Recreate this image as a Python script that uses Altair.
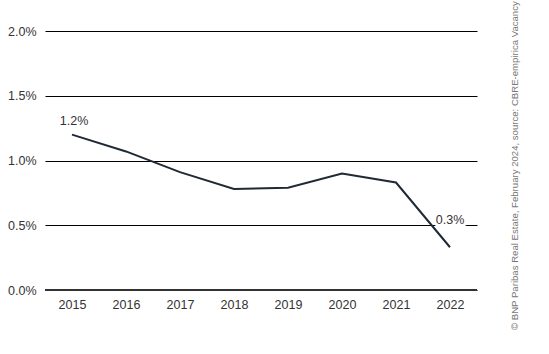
import altair as alt
import pandas as pd

years = ["2015", "2016", "2017", "2018", "2019", "2020", "2021", "2022"]
values = [1.20, 1.07, 0.91, 0.78, 0.79, 0.90, 0.83, 0.33]
label_years = ["2015", "2022"]
label_texts = ["1.2%", "0.3%"]
label_vals = [1.20, 0.33]
source_text = "© BNP Paribas Real Estate, February 2024, source: CBRE-empirica Vacancy Index"

FONT = "Liberation Sans"

df = pd.DataFrame({"year": years, "v": [x / 100 for x in values]})
lab = pd.DataFrame({"year": label_years, "t": label_texts, "v": [x / 100 for x in label_vals]})

x = alt.X("year:N", sort=years, title=None,
          scale=alt.Scale(paddingInner=0, paddingOuter=0),
          axis=alt.Axis(labelAngle=0, ticks=False, domain=False, grid=False,
                        labelFont=FONT, labelFontSize=12.5, labelColor="#333333", labelPadding=8))
y = alt.Y("v:Q", title=None, scale=alt.Scale(domain=[0, 0.02]),
          axis=alt.Axis(format=".1%", values=[0, 0.005, 0.01, 0.015, 0.02], ticks=False,
                        domain=False, grid=True, gridColor="#000000", gridWidth=1,
                        labelFont=FONT, labelFontSize=12.5, labelColor="#333333", labelPadding=9))

line = alt.Chart(df).mark_line(color="#1f2a36", strokeWidth=2).encode(x=x, y=y)

zero = alt.Chart(df).mark_rule(color="#333333", strokeWidth=1.8).encode(
    y=alt.datum(0), x=alt.value(0), x2=alt.value(432))

lab1 = alt.Chart(lab[lab["year"] == "2015"]).mark_text(
    font=FONT, fontSize=12.5, color="#333333", dy=-14, dx=2).encode(
    x=alt.X("year:N", sort=years), y=alt.Y("v:Q"), text="t:N")

lab2bg = alt.Chart(lab[lab["year"] == "2022"]).mark_text(
    font=FONT, fontSize=12.5, color="white", stroke="white", strokeWidth=6, dy=-27, dx=0).encode(
    x=alt.X("year:N", sort=years), y=alt.Y("v:Q"), text="t:N")
lab2 = alt.Chart(lab[lab["year"] == "2022"]).mark_text(
    font=FONT, fontSize=12.5, color="#333333", dy=-27, dx=0).encode(
    x=alt.X("year:N", sort=years), y=alt.Y("v:Q"), text="t:N")

src = alt.Chart(pd.DataFrame({"t": [source_text]})).mark_text(
    font=FONT, fontSize=9.6, color="#777777", angle=270, align="left", baseline="middle").encode(
    x=alt.value(470), y=alt.value(299), text="t:N")

chart = alt.layer(zero, line, lab1, lab2bg, lab2, src).properties(
    width=432, height=259,
    background="white",
    autosize=alt.AutoSizeParams(type="none"),
    padding={"left": 45, "top": 31, "right": 72, "bottom": 64},
).configure_view(stroke=None)

chart.save("out.html", embed_options={"renderer": "svg", "actions": False})
